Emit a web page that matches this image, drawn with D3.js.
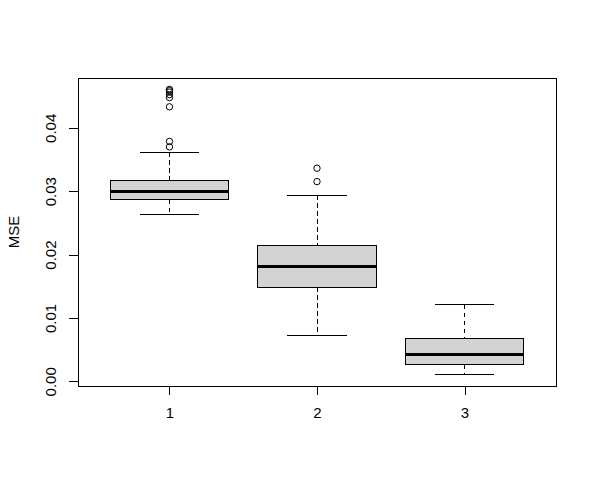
<!DOCTYPE html>
<html>
<head>
<meta charset="utf-8">
<script src="https://cdn.jsdelivr.net/npm/d3@7"></script>
<style>
  body { margin: 0; background: #fff; }
  text { font-family: "Liberation Sans", Arial, sans-serif; }
  line, rect { shape-rendering: crispEdges; }
</style>
</head>
<body>
<svg width="597" height="484"></svg>
<script>
// groups on the x axis
const groups = [1, 2, 3]
// [lower whisker, q1, median, q3, upper whisker]
const stats = [
  [0.02631, 0.02868, 0.02999, 0.03168, 0.03616],
  [0.00722, 0.01481, 0.01808, 0.02141, 0.02936],
  [0.00106, 0.00259, 0.00422, 0.00670, 0.01208]
]
const outliers = [
  [0.03700, 0.03786, 0.04332, 0.04478, 0.04525, 0.04564, 0.04588, 0.04607],
  [0.03152, 0.03363],
  []
]
const yTicks = [0, 0.01, 0.02, 0.03, 0.04]

const boxData = groups.map((g, i) => ({
  g,
  lo: stats[i][0], q1: stats[i][1], med: stats[i][2], q3: stats[i][3], hi: stats[i][4],
  out: outliers[i]
}))

const plotL = 78, plotR = 556, plotT = 78, plotB = 386

// R style axis range: data range stretched by 4%
const allVals = stats.flat().concat(outliers.flat())
const [yMin, yMax] = d3.extent(allVals)
const pad = (yMax - yMin) * 0.04

const y = d3.scaleLinear()
  .domain([yMin - pad, yMax + pad])
  .range([plotB, plotT])

const x = d3.scaleLinear()
  .domain([0.5 - 0.12, groups.length + 0.5 + 0.12])
  .range([plotL, plotR])

const boxW = (x(1.4) - x(0.6))
const capW = boxW / 2

const svg = d3.select("svg")

// y axis
const yAxis = svg.append("g")
  .attr("transform", `translate(${plotL},0)`)
  .call(d3.axisLeft(y).tickValues(yTicks).tickSize(9).tickFormat(d3.format(".2f")))
yAxis.select(".domain").remove()
yAxis.selectAll("line").attr("stroke", "#000")
yAxis.selectAll("text")
  .attr("transform", "rotate(-90)")
  .attr("x", 0)
  .attr("y", -22)
  .attr("dy", 0)
  .attr("text-anchor", "middle")
  .attr("fill", "#000")
  .style("font-size", "15px")
  .style("font-family", "'Liberation Sans', Arial, sans-serif")

// x axis
const xAxis = svg.append("g")
  .attr("transform", `translate(0,${plotB})`)
  .call(d3.axisBottom(x).tickValues(groups).tickSize(9).tickFormat(d3.format("d")))
xAxis.select(".domain").remove()
xAxis.selectAll("line").attr("stroke", "#000")
xAxis.selectAll("text")
  .attr("y", 32)
  .attr("dy", 0)
  .attr("fill", "#000")
  .style("font-size", "15px")
  .style("font-family", "'Liberation Sans', Arial, sans-serif")

// axis title
svg.append("text")
  .attr("transform", `translate(18.5,${(plotT + plotB) / 2}) rotate(-90)`)
  .attr("text-anchor", "middle")
  .style("font-size", "15px")
  .text("MSE")

const box = svg.selectAll("g.box")
  .data(boxData)
  .enter()
  .append("g")
  .attr("class", "box")

// whiskers
box.append("line")
  .attr("x1", d => x(d.g)).attr("x2", d => x(d.g))
  .attr("y1", d => y(d.hi)).attr("y2", d => y(d.q3))
  .attr("stroke", "#000").attr("stroke-dasharray", "4.5,3.5")
box.append("line")
  .attr("x1", d => x(d.g)).attr("x2", d => x(d.g))
  .attr("y1", d => y(d.q1)).attr("y2", d => y(d.lo))
  .attr("stroke", "#000").attr("stroke-dasharray", "4.5,3.5")

// caps
box.selectAll("line.cap")
  .data(d => [d.lo, d.hi].map(v => ({ g: d.g, v })))
  .enter()
  .append("line")
  .attr("class", "cap")
  .attr("x1", d => x(d.g) - capW / 2).attr("x2", d => x(d.g) + capW / 2)
  .attr("y1", d => y(d.v)).attr("y2", d => y(d.v))
  .attr("stroke", "#000")

// boxes
box.append("rect")
  .attr("x", d => x(d.g) - boxW / 2)
  .attr("width", boxW)
  .attr("y", d => y(d.q3))
  .attr("height", d => y(d.q1) - y(d.q3))
  .attr("fill", "#d3d3d3")
  .attr("stroke", "#000")

// medians
box.append("line")
  .attr("x1", d => x(d.g) - boxW / 2).attr("x2", d => x(d.g) + boxW / 2)
  .attr("y1", d => y(d.med)).attr("y2", d => y(d.med))
  .attr("stroke", "#000").attr("stroke-width", 3)

// outliers
box.selectAll("circle")
  .data(d => d.out.map(v => ({ g: d.g, v })))
  .enter()
  .append("circle")
  .attr("cx", d => x(d.g))
  .attr("cy", d => y(d.v))
  .attr("r", 3.2)
  .attr("fill", "none")
  .attr("stroke", "#000")

// frame
svg.append("rect")
  .attr("x", plotL).attr("y", plotT)
  .attr("width", plotR - plotL).attr("height", plotB - plotT)
  .attr("fill", "none")
  .attr("stroke", "#000")
</script>
</body>
</html>
